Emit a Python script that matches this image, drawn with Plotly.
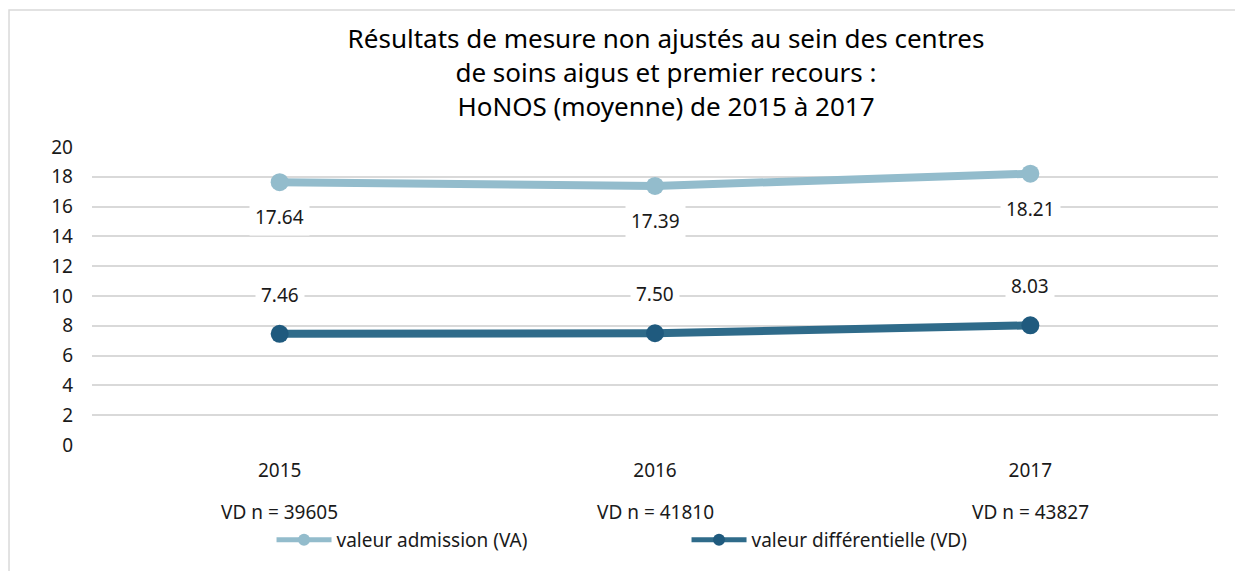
import plotly.graph_objects as go

years = ["2015", "2016", "2017"]
vd_n = ["39605", "41810", "43827"]
va_values = [17.64, 17.39, 18.21]
vd_values = [7.46, 7.50, 8.03]
va_name = "valeur admission (VA)"
vd_name = "valeur différentielle (VD)"
title = "Résultats de mesure non ajustés au sein des centres<br>de soins aigus et premier recours :<br>HoNOS (moyenne) de 2015 à 2017"

va_color = "#93BCCC"
vd_color = "#2F6B8A"
vd_marker = "#1F5A7E"
font_family = "Noto Sans, Open Sans, sans-serif"
txt = "#1a1a1a"

fig = go.Figure()
fig.add_trace(go.Scatter(
    x=years, y=va_values, mode="lines+markers", name=va_name,
    line=dict(color=va_color, width=8),
    marker=dict(color=va_color, size=18),
))
fig.add_trace(go.Scatter(
    x=years, y=vd_values, mode="lines+markers", name=vd_name,
    line=dict(color=vd_color, width=8),
    marker=dict(color=vd_marker, size=18),
))

for i, v in enumerate(va_values):
    fig.add_annotation(x=i, y=v, xref="x", yref="y", text=f"{v:.2f}", showarrow=False,
                       yshift=-35, bgcolor="white", borderpad=5,
                       font=dict(size=19, color=txt, family=font_family))
for i, v in enumerate(vd_values):
    fig.add_annotation(x=i, y=v, xref="x", yref="y", text=f"{v:.2f}", showarrow=False,
                       yshift=39, bgcolor="white", borderpad=5,
                       font=dict(size=19, color=txt, family=font_family))
for i, n in enumerate(vd_n):
    fig.add_annotation(x=i, y=-0.2248, xref="x", yref="paper", yanchor="middle",
                       text=f"VD n = {n}", showarrow=False,
                       font=dict(size=19, color=txt, family=font_family))

fig.add_shape(type="rect", xref="paper", yref="paper",
              x0=-0.0737, x1=1.05, y0=-0.45, y1=1.4597,
              line=dict(color="#d9d9d9", width=1.5), fillcolor="rgba(0,0,0,0)",
              layer="below")

fig.update_layout(
    width=1235, height=563,
    paper_bgcolor="white", plot_bgcolor="white",
    margin=dict(l=84, r=25, t=139, b=126),
    font=dict(family=font_family, color=txt),
    title=dict(text=title, x=658 / 1235, xanchor="center", xref="container",
               y=1 - 40 / 563, yanchor="middle", yref="container",
               font=dict(size=26, color="black", family=font_family)),
    xaxis=dict(type="category", range=[-0.5, 2.5], tickvals=years, ticktext=years,
               showgrid=False, showline=False, zeroline=False, ticks="",
               ticklabelstandoff=12,
               tickfont=dict(size=19, color=txt)),
    yaxis=dict(range=[0, 20], dtick=2, showgrid=True, gridcolor="#d9d9d9", gridwidth=1.5,
               zeroline=False, showline=False, ticks="", ticklabelstandoff=18,
               tickfont=dict(size=19, color=txt)),
    legend=dict(orientation="h", x=0.528, xanchor="center", y=-0.255, yanchor="top",
                font=dict(size=19, color=txt), entrywidth=345, entrywidthmode="pixels",
                itemwidth=55, itemsizing="constant", tracegroupgap=0),
    showlegend=True,
)

fig.write_html("out.html")
